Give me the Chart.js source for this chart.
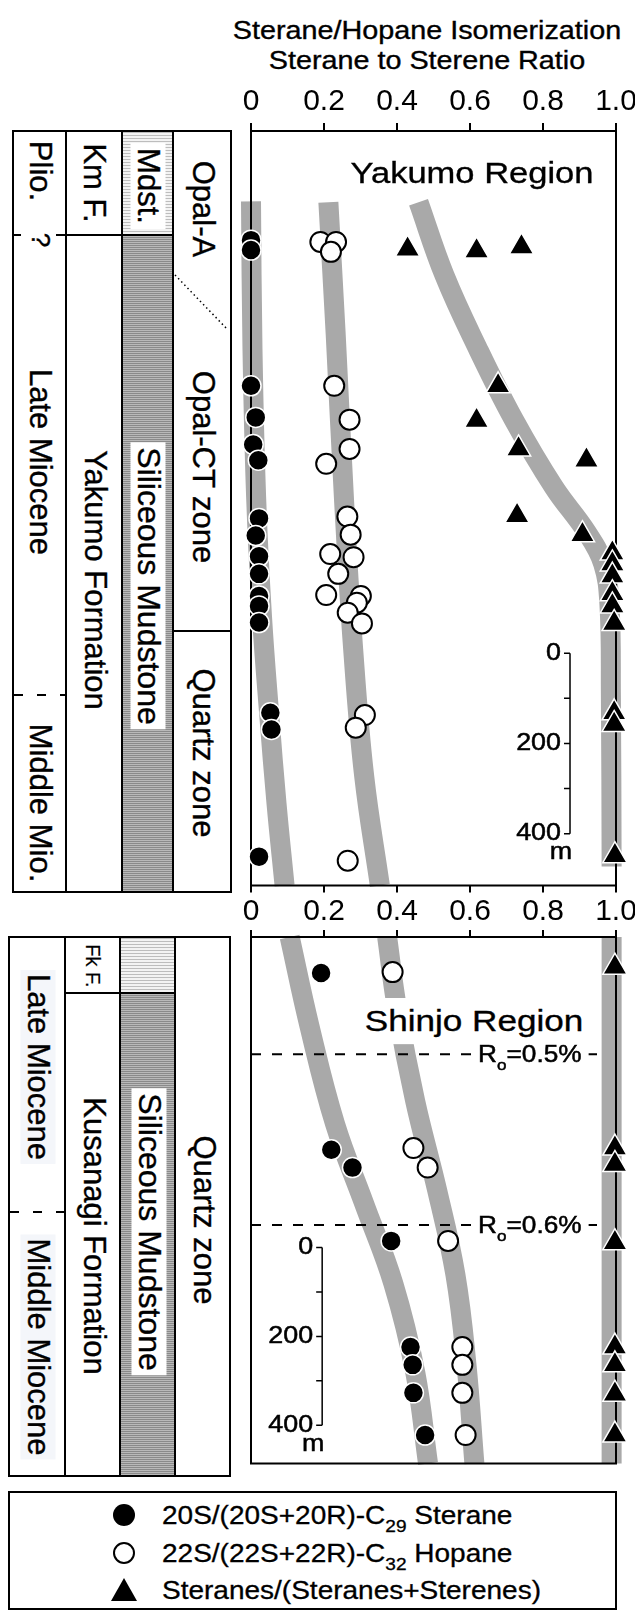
<!DOCTYPE html>
<html>
<head>
<meta charset="utf-8">
<title>Sterane/Hopane Isomerization</title>
<script src="https://cdn.jsdelivr.net/npm/chart.js@4.4.1/dist/chart.umd.min.js"></script>
<style>
html, body { margin: 0; padding: 0; background: #fff; }
body { position: relative; width: 635px; height: 1612px; overflow: hidden;
  font-family: "Liberation Sans", Arial, Helvetica, sans-serif; color: #000; }
.box { position: absolute; box-sizing: border-box; border: 2px solid #000; }
.ln { position: absolute; background: #000; }
.dash { position: absolute; height: 2px; background: repeating-linear-gradient(to right, #000 0 9px, transparent 9px 23px); }
.light { position: absolute; background: repeating-linear-gradient(to bottom, #bdbdbd 0 1px, #f3f3f3 1px 3px); }
.dark { position: absolute; background: repeating-linear-gradient(to bottom, #8a8a8a 0 1px, #b9b9b9 1px 2px); }
.rot { position: absolute; white-space: nowrap; font-size: 31px; line-height: 31px; transform: translate(-50%, -50%) rotate(90deg); -webkit-text-stroke: 0.35px #000; }
.wbg { background: #fff; padding: 2px 5px; }
.tint { background: #f4f6fa; padding: 2px 4px; }
.htxt { position: absolute; white-space: nowrap; -webkit-text-stroke: 0.35px #000; }
canvas { position: absolute; }
.leg { position: absolute; left: 162px; font-size: 25px; line-height: 28px; white-space: nowrap; transform: scaleX(1.12); transform-origin: 0 50%; -webkit-text-stroke: 0.3px #000; }
.leg sub { font-size: 17px; vertical-align: -8px; line-height: 0; }
.sym { position: absolute; left: 109px; }
</style>
</head>
<body>

<!-- title -->
<div class="htxt" style="left:427px; top:15px; font-size:25px; line-height:30px; text-align:center; transform:translateX(-50%) scaleX(1.15);">Sterane/Hopane Isomerization<br>Sterane to Sterene Ratio</div>

<!-- Yakumo stratigraphic column -->
<div class="box" style="left:12px; top:130px; width:220px; height:763px;"></div>
<div class="light" style="left:123px; top:132px; width:49px; height:103px;"></div>
<div class="dark" style="left:123px; top:235px; width:49px; height:656px;"></div>
<div class="ln" style="left:65px; top:130px; width:2px; height:763px;"></div>
<div class="ln" style="left:121px; top:130px; width:2px; height:763px;"></div>
<div class="ln" style="left:172px; top:130px; width:2px; height:763px;"></div>
<div class="ln" style="left:65px; top:234px; width:109px; height:2px;"></div>
<div class="ln" style="left:14px; top:234px; width:7px; height:2px;"></div>
<div class="ln" style="left:56px; top:234px; width:10px; height:2px;"></div>
<div class="ln" style="left:172px; top:630px; width:60px; height:2px;"></div>
<div class="dash" style="left:14px; top:694px; width:51px;"></div>
<svg style="position:absolute; left:0; top:0;" width="250" height="400">
  <line x1="175" y1="275" x2="228" y2="330" stroke="#000" stroke-width="1.5" stroke-dasharray="1.5 3"/>
</svg>

<div class="rot" style="left:40px; top:171px;">Plio.</div>
<div class="rot" style="left:40px; top:240px; font-size:26px;">?</div>
<div class="rot" style="left:40px; top:462px;">Late Miocene</div>
<div class="rot" style="left:40px; top:803px;">Middle Mio.</div>
<div class="rot" style="left:94px; top:183px;">Km F.</div>
<div class="rot" style="left:95px; top:580px;">Yakumo Formation</div>
<div class="rot wbg" style="left:148px; top:186px;">Mdst.</div>
<div class="rot wbg" style="left:148px; top:586px; font-size:32px;">Siliceous Mudstone</div>
<div class="rot" style="left:203px; top:209px;">Opal-A</div>
<div class="rot" style="left:203px; top:467px;">Opal-CT zone</div>
<div class="rot" style="left:203px; top:753px;">Quartz zone</div>

<!-- Shinjo stratigraphic column -->
<div class="box" style="left:8px; top:936px; width:223px; height:541px;"></div>
<div class="light" style="left:121px; top:938px; width:53px; height:55px;"></div>
<div class="dark" style="left:121px; top:993px; width:53px; height:482px;"></div>
<div class="ln" style="left:64px; top:936px; width:2px; height:541px;"></div>
<div class="ln" style="left:119px; top:936px; width:2px; height:541px;"></div>
<div class="ln" style="left:174px; top:936px; width:2px; height:541px;"></div>
<div class="ln" style="left:64px; top:992px; width:112px; height:2px;"></div>
<div class="dash" style="left:10px; top:1211px; width:54px;"></div>

<div class="rot tint" style="left:38px; top:1067px;">Late Miocene</div>
<div class="rot tint" style="left:38px; top:1347px;">Middle Miocene</div>
<div class="rot" style="left:93px; top:966px; font-size:20px; line-height:20px; -webkit-text-stroke:0.2px #000;">Fk F.</div>
<div class="rot" style="left:94px; top:1236px;">Kusanagi Formation</div>
<div class="rot wbg" style="left:149px; top:1232px; font-size:32px;">Siliceous Mudstone</div>
<div class="rot" style="left:204px; top:1220px;">Quartz zone</div>

<!-- charts -->
<canvas id="chartYakumo" width="421" height="814" style="left:221px; top:87px;"></canvas>
<canvas id="chartShinjo" width="421" height="586" style="left:221px; top:893px;"></canvas>

<div class="htxt" style="left:472px; top:158px; font-size:30px; line-height:30px; transform:translateX(-50%) scaleX(1.15);">Yakumo Region</div>
<div class="htxt" style="left:474px; top:998px; font-size:30px; line-height:30px; padding:8px 6px; background:#fff; transform:translateX(-50%) scaleX(1.17);">Shinjo Region</div>

<!-- legend -->
<div class="box" style="left:8px; top:1491px; width:609px; height:119px;"></div>
<svg class="sym" style="top:1500px;" width="30" height="30"><circle cx="15" cy="15" r="11" fill="#000"/></svg>
<svg class="sym" style="top:1538px;" width="30" height="30"><circle cx="15" cy="15" r="10" fill="#fff" stroke="#000" stroke-width="2"/></svg>
<svg class="sym" style="top:1575px;" width="30" height="30"><polygon points="15,3 28,26 2,26" fill="#000"/></svg>
<div class="leg" style="top:1501px;">20S/(20S+20R)-C<sub>29</sub> Sterane</div>
<div class="leg" style="top:1539px;">22S/(22S+22R)-C<sub>32</sub> Hopane</div>
<div class="leg" style="top:1576px;">Steranes/(Steranes+Sterenes)</div>

<script>
// ---- axis ----
const xTickLabels = ['0', '0.2', '0.4', '0.6', '0.8', '1.0'];

// ---- Yakumo region (depth in m below panel top) ----
const yakSteraneX = [0.0, 0.0, 0.0, 0.013, 0.006, 0.02, 0.022, 0.013, 0.022, 0.022, 0.022, 0.022, 0.022, 0.053, 0.056, 0.022];
const yakSteraneDepth = [242, 264, 565, 635, 695, 730, 859, 897, 943, 982, 1031, 1053, 1090, 1290, 1327, 1609];
const yakHopaneX = [0.19, 0.233, 0.219, 0.228, 0.27, 0.27, 0.206, 0.264, 0.273, 0.217, 0.281, 0.239, 0.206, 0.301, 0.29, 0.265, 0.304, 0.312, 0.287, 0.265];
const yakHopaneDepth = [246, 246, 268, 565, 640, 705, 738, 855, 895, 938, 945, 982, 1029, 1031, 1046, 1068, 1092, 1295, 1323, 1618];
const yakRatioX = [0.429, 0.618, 0.741, 0.677, 0.618, 0.733, 0.919, 0.729, 0.908, 0.99, 0.99, 0.99, 0.99, 0.99, 0.995, 0.995, 0.995, 0.997];
const yakRatioDepth = [262, 266, 257, 565, 642, 705, 730, 853, 895, 936, 960, 987, 1026, 1053, 1092, 1290, 1316, 1607];

const yakBand1X = [0.0, 0.004, 0.014, 0.03, 0.05, 0.07, 0.092];
const yakBand1Depth = [156, 481, 811, 1075, 1295, 1492, 1673];
const yakBand2X = [0.212, 0.232, 0.255, 0.28, 0.31, 0.353];
const yakBand2Depth = [158, 450, 820, 1150, 1430, 1673];
const yakBand3X = [0.459, 0.53, 0.62, 0.72, 0.83, 0.92, 0.965, 0.982, 0.986, 0.988];
const yakBand3Depth = [158, 320, 480, 640, 790, 890, 960, 1050, 1250, 1631];

// ---- Shinjo region ----
const shinSteraneX = [0.192, 0.22, 0.278, 0.384, 0.437, 0.443, 0.445, 0.477];
const shinSteraneDepth = [81, 479, 519, 684, 923, 963, 1026, 1121];
const shinHopaneX = [0.388, 0.445, 0.484, 0.54, 0.579, 0.579, 0.579, 0.588];
const shinHopaneDepth = [79, 475, 519, 684, 923, 963, 1026, 1121];
const shinRatioX = [0.997, 0.997, 0.997, 0.997, 0.997, 0.997, 0.997, 0.997];
const shinRatioDepth = [68, 475, 512, 688, 923, 963, 1029, 1121];

const shinBand1X = [0.106, 0.16, 0.23, 0.31, 0.39, 0.45, 0.485];
const shinBand1Depth = [0, 200, 420, 600, 780, 980, 1185];
const shinBand2X = [0.373, 0.40, 0.45, 0.51, 0.56, 0.59, 0.612];
const shinBand2Depth = [0, 160, 370, 570, 760, 960, 1185];
const shinBand3X = [0.988, 0.988];
const shinBand3Depth = [0, 1185];

// vitrinite reflectance markers (Shinjo)
const roDepths = [264, 648];
const roTexts = ['=0.5%', '=0.6%'];
const roLineX = [0, 0.953];
const roLabelX = 0.764;

// depth scale bars (m)
const scaleBarTicks = [0, 100, 200, 300, 400];
const scaleBarLabels = ['0', '', '200', '', '400'];
const scaleBarUnit = 'm';

const FONT = '"Liberation Sans", Arial, Helvetica, sans-serif';
Chart.defaults.font.family = FONT;
Chart.defaults.color = '#000';

function pts(xs, ds) {
    return xs.map((x, i) => ({ x: x, y: ds[i] }));
}

function markerSets(steX, steD, hopX, hopD, ratX, ratD) {
    return [
        { data: pts(steX, steD), pointStyle: 'circle', pointRadius: 10, pointBackgroundColor: '#000',
          pointBorderColor: '#fff', pointBorderWidth: 1.5, showLine: false, clip: false },
        { data: pts(hopX, hopD), pointStyle: 'circle', pointRadius: 10, pointBackgroundColor: '#fff',
          pointBorderColor: '#000', pointBorderWidth: 2, showLine: false, clip: false },
        { data: pts(ratX, ratD), pointStyle: 'triangle', pointRadius: 14, pointBackgroundColor: '#000',
          pointBorderColor: '#fff', pointBorderWidth: 1.5, showLine: false, clip: false }
    ];
}

function bandSet(xs, ds) {
    return { data: pts(xs, ds), showLine: true, borderColor: '#a9a9a9', borderWidth: 20,
             pointRadius: 0, tension: 0.4, borderCapStyle: 'butt', clip: false };
}

function roSet(depth) {
    return { data: roLineX.map(x => ({ x: x, y: depth })), showLine: true, borderColor: '#000',
             borderWidth: 2, borderDash: [10, 11], pointRadius: 0, clip: false };
}

function stretchText(ctx, text, x, y, align, k) {
    ctx.save();
    ctx.translate(x, y);
    ctx.scale(k, 1);
    ctx.textAlign = align;
    ctx.fillText(text, 0, 0);
    ctx.lineWidth = 0.5;
    ctx.strokeStyle = '#000';
    ctx.strokeText(text, 0, 0);
    ctx.restore();
}

function decorPlugin(p) {
    return {
        id: 'decor',
        afterDatasetDraw(chart, args) {
            // frame goes above the grey trend bands but under the markers
            if (args.index !== 3) return;
            const a = chart.chartArea;
            const ctx = chart.ctx;
            ctx.save();
            ctx.lineWidth = 2;
            ctx.strokeStyle = '#000';
            ctx.strokeRect(a.left, a.top, a.right - a.left, a.bottom - a.top);
            ctx.restore();
        },
        afterDatasetsDraw(chart) {
            const ctx = chart.ctx;
            const xs = chart.scales.x;
            const ys = chart.scales.y;
            const bx = xs.getPixelForValue(p.barX);
            const first = ys.getPixelForValue(p.barStart + scaleBarTicks[0]);
            const last = ys.getPixelForValue(p.barStart + scaleBarTicks[scaleBarTicks.length - 1]);
            ctx.save();
            ctx.strokeStyle = '#000';
            ctx.lineWidth = 1.5;
            ctx.beginPath();
            ctx.moveTo(bx, first);
            ctx.lineTo(bx, last);
            scaleBarTicks.forEach(t => {
                const ty = ys.getPixelForValue(p.barStart + t);
                ctx.moveTo(bx - 6, ty);
                ctx.lineTo(bx, ty);
            });
            ctx.stroke();
            ctx.fillStyle = '#000';
            ctx.font = '24px ' + FONT;
            ctx.textBaseline = 'middle';
            scaleBarTicks.forEach((t, i) => {
                if (scaleBarLabels[i]) {
                    stretchText(ctx, scaleBarLabels[i], bx - 9, ys.getPixelForValue(p.barStart + t), 'right', 1.12);
                }
            });
            stretchText(ctx, scaleBarUnit, bx - 9, last + 19, 'center', 1.12);

            if (p.ro) {
                const k = 1.14;
                roDepths.forEach((d, i) => {
                    const y = ys.getPixelForValue(d);
                    const cx = xs.getPixelForValue(roLabelX);
                    ctx.font = '23px ' + FONT;
                    const wR = ctx.measureText('R').width;
                    const wRest = ctx.measureText(roTexts[i]).width;
                    ctx.font = '15px ' + FONT;
                    const wo = ctx.measureText('o').width;
                    const total = (wR + wo + wRest) * k;
                    let x = cx - total / 2;
                    ctx.fillStyle = '#fff';
                    ctx.fillRect(x - 7, y - 13, total + 14, 30);
                    ctx.fillStyle = '#000';
                    ctx.textBaseline = 'alphabetic';
                    ctx.font = '23px ' + FONT;
                    stretchText(ctx, 'R', x, y + 8, 'left', k);
                    x += wR * k;
                    ctx.font = '15px ' + FONT;
                    stretchText(ctx, 'o', x, y + 16, 'left', k);
                    x += wo * k;
                    ctx.font = '23px ' + FONT;
                    stretchText(ctx, roTexts[i], x, y + 8, 'left', k);
                });
            }
            ctx.restore();
        }
    };
}

function makePanel(canvasId, cfg) {
    const scales = {
        x: {
            type: 'linear', position: 'top', min: 0, max: 1,
            afterFit: s => { s.height = 44; },
            border: { display: false },
            grid: { display: true, drawOnChartArea: false, drawTicks: true, tickLength: cfg.tickLength,
                    tickWidth: 2, tickColor: '#000', lineWidth: 2, color: '#000' },
            ticks: { stepSize: 0.2, autoSkip: false, maxRotation: 0, padding: cfg.tickPad,
                     font: { size: 30 }, color: '#000', callback: (v, i) => xTickLabels[i] }
        },
        y: { type: 'linear', display: false, min: 0, max: cfg.maxDepth, reverse: true }
    };
    if (cfg.bottomTicks) {
        scales.x2 = {
            type: 'linear', position: 'bottom', min: 0, max: 1,
            afterFit: s => { s.height = 9; },
            border: { display: false },
            grid: { display: true, drawOnChartArea: false, drawTicks: true, tickLength: 7,
                    tickWidth: 2, tickColor: '#000', lineWidth: 2, color: '#000' },
            ticks: { stepSize: 0.2, display: false }
        };
    }
    return new Chart(document.getElementById(canvasId).getContext('2d'), {
        type: 'scatter',
        data: { datasets: cfg.datasets },
        options: {
            responsive: false,
            maintainAspectRatio: false,
            animation: false,
            events: [],
            layout: { padding: { left: 30, right: 26, top: 0, bottom: cfg.padBottom } },
            plugins: { legend: { display: false }, tooltip: { enabled: false } },
            scales: scales
        },
        plugins: [decorPlugin(cfg.decor)]
    });
}

makePanel('chartYakumo', {
    maxDepth: 1673,
    tickLength: 8,
    tickPad: 3,
    bottomTicks: true,
    padBottom: 0,
    decor: { barX: 0.874, barStart: 1158, ro: false },
    datasets: markerSets(yakSteraneX, yakSteraneDepth, yakHopaneX, yakHopaneDepth, yakRatioX, yakRatioDepth)
        .concat([bandSet(yakBand1X, yakBand1Depth), bandSet(yakBand2X, yakBand2Depth), bandSet(yakBand3X, yakBand3Depth)])
});

makePanel('chartShinjo', {
    maxDepth: 1185,
    tickLength: 7,
    tickPad: 0,
    bottomTicks: false,
    padBottom: 3,
    decor: { barX: 0.195, barStart: 699, ro: true },
    datasets: markerSets(shinSteraneX, shinSteraneDepth, shinHopaneX, shinHopaneDepth, shinRatioX, shinRatioDepth)
        .concat(roDepths.map(roSet))
        .concat([bandSet(shinBand1X, shinBand1Depth), bandSet(shinBand2X, shinBand2Depth), bandSet(shinBand3X, shinBand3Depth)])
});
</script>
</body>
</html>
